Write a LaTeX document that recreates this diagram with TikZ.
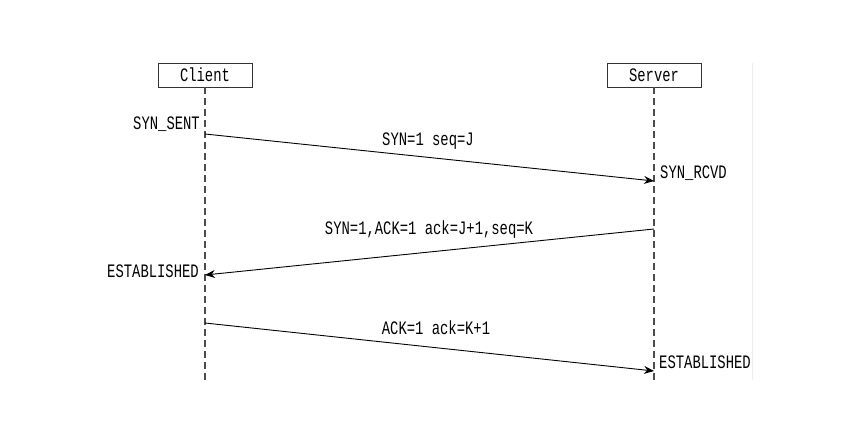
\documentclass[tikz,border=0pt]{standalone}
\usepackage{fontspec}
\setmainfont{Liberation Mono}[FakeStretch=0.73]
\usetikzlibrary{arrows.meta}
\tikzset{
	party/.style={draw=black!80,minimum width=94pt,minimum height=24pt,inner sep=0pt,font=\fontsize{19}{19}\selectfont},
	lifeline/.style={draw=black!70,line width=1.3pt,dash pattern=on 7pt off 4pt},
	msg/.style={draw=black,line width=0.9pt,-{Stealth[length=10pt,width=8pt]}},
	lbl/.style={inner sep=0pt,font=\fontsize{19}{19}\selectfont}
}
\begin{document}
\begin{tikzpicture}[x=1pt,y=-1pt]
					\useasboundingbox (0,0) rectangle (866,446);
					\draw [draw=black!7] (752,63) -- (752,380);
					\node [party] (client) at (205,75) {Client};
					\node [party] (server) at (654,75) {Server};
					\coordinate (cend) at (205,380);
					\coordinate (send) at (654,380);
					\draw [lifeline] (client.south) -- (cend);
					\draw [lifeline] (server.south) -- (send);
					\coordinate (c1) at (205,134);
					\coordinate (s1) at (654,181);
					\coordinate (s2) at (654,229);
					\coordinate (c2) at (205,275);
					\coordinate (c3) at (205,323);
					\coordinate (s3) at (654,371);
					\draw [msg] (c1) -- (s1);
					\draw [msg] (s2) -- (c2);
					\draw [msg] (c3) -- (s3);
					\node [lbl,anchor=east] (synsent) at (200,124) {SYN\_SENT};
					\node [lbl] (syn) at (428,141) {SYN=1 seq=J};
					\node [lbl,anchor=west] (synrcvd) at (660,173) {SYN\_RCVD};
					\node [lbl] (synack) at (429,230) {SYN=1,ACK=1 ack=J+1,seq=K};
					\node [lbl,anchor=east] (cestab) at (199,271) {ESTABLISHED};
					\node [lbl] (ack) at (436,328) {ACK=1 ack=K+1};
					\node [lbl,anchor=west] (sestab) at (659,362) {ESTABLISHED};
				\end{tikzpicture}
\end{document}
